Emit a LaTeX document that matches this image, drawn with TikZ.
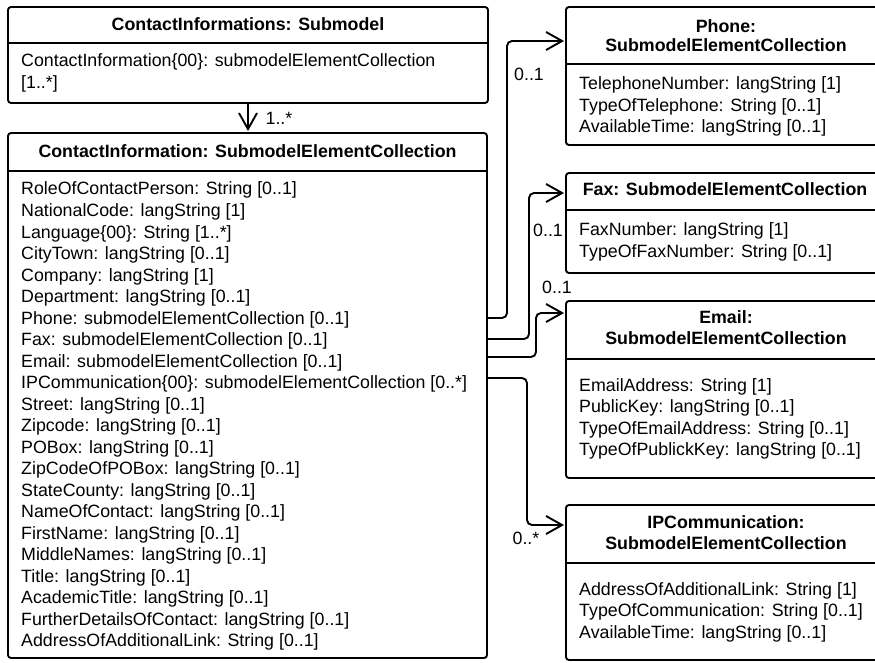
\documentclass[tikz,border=0pt]{standalone}
\usepackage{fontspec}
\setmainfont{Liberation Sans}
\usetikzlibrary{arrows.meta}

\tikzset{
  umlbox/.style={draw, line width=1.9pt, rounded corners=3pt, anchor=north west, inner sep=0pt, outer sep=0pt},
  sepline/.style={line width=1.9pt},
  title/.style={font=\bfseries\fontsize{17.8}{21.4}\selectfont, inner sep=0pt, anchor=base},
  attr/.style={font=\fontsize{17.8}{21.4}\selectfont, inner sep=0pt, anchor=base west},
  mult/.style={font=\fontsize{17.8}{21.4}\selectfont, inner sep=0pt},
  assoc/.style={line width=1.9pt, rounded corners=5pt, shorten >=2pt,
    -{Straight Barb[length=16pt,width=18pt,line width=1.9pt]}},
}

\begin{document}
\begin{tikzpicture}[x=1pt,y=-1pt]
\useasboundingbox (0,0) rectangle (875,663);

% submodel
\node[umlbox, minimum width=480pt, minimum height=96pt] (subm) at (8,7) {};
\draw[sepline] (8,43) -- (488,43);
\node[title] (submtitle) at (248,31) {ContactInformations: Submodel};
\node[attr] (subma) at (21,67) {ContactInformation\{00\}: submodelElementCollection};
\node[attr] (submb) at (21,88.5) {[1..*]};

% contact information
\node[umlbox, minimum width=479pt, minimum height=525pt] (ci) at (8,133) {};
\draw[sepline] (8,171) -- (487,171);
\node[title] (cititle) at (247.5,158) {ContactInformation: SubmodelElementCollection};
\foreach \t [count=\i] in {RoleOfContactPerson: String [0..1],
  NationalCode: langString [1],
  Language\{00\}: String [1..*],
  CityTown: langString [0..1],
  Company: langString [1],
  Department: langString [0..1],
  Phone: submodelElementCollection [0..1],
  Fax: submodelElementCollection [0..1],
  Email: submodelElementCollection [0..1],
  IPCommunication\{00\}: submodelElementCollection [0..*],
  Street: langString [0..1],
  Zipcode: langString [0..1],
  POBox: langString [0..1],
  ZipCodeOfPOBox: langString [0..1],
  StateCounty: langString [0..1],
  NameOfContact: langString [0..1],
  FirstName: langString [0..1],
  MiddleNames: langString [0..1],
  Title: langString [0..1],
  AcademicTitle: langString [0..1],
  FurtherDetailsOfContact: langString [0..1],
  AddressOfAdditionalLink: String [0..1]}
  \node[attr] (ci-\i) at (21,{195+21.5*(\i-1)}) {\t};

% phone
\node[umlbox, minimum width=320pt, minimum height=138pt] (phone) at (566,7) {};
\draw[sepline] (566,64) -- (886,64);
\node[title] (phonet1) at (726,33) {Phone:};
\node[title] (phonet2) at (726,52) {SubmodelElementCollection};
\node[attr] (phone-1) at (579,90) {TelephoneNumber: langString [1]};
\node[attr] (phone-2) at (579,111.5) {TypeOfTelephone: String [0..1]};
\node[attr] (phone-3) at (579,133) {AvailableTime: langString [0..1]};

% fax
\node[umlbox, minimum width=320pt, minimum height=100pt] (fax) at (566,173) {};
\draw[sepline] (566,210) -- (886,210);
\node[title] (faxt) at (725,196) {Fax: SubmodelElementCollection};
\node[attr] (fax-1) at (579,236) {FaxNumber: langString [1]};
\node[attr] (fax-2) at (579,257.5) {TypeOfFaxNumber: String [0..1]};

% email
\node[umlbox, minimum width=320pt, minimum height=177pt] (email) at (566,301) {};
\draw[sepline] (566,359) -- (886,359);
\node[title] (emailt1) at (726,323) {Email:};
\node[title] (emailt2) at (726,344) {SubmodelElementCollection};
\node[attr] (email-1) at (579,391) {EmailAddress: String [1]};
\node[attr] (email-2) at (579,412.5) {PublicKey: langString [0..1]};
\node[attr] (email-3) at (579,434) {TypeOfEmailAddress: String [0..1]};
\node[attr] (email-4) at (579,455.5) {TypeOfPublickKey: langString [0..1]};

% ip communication
\node[umlbox, minimum width=320pt, minimum height=155pt] (ipc) at (566,505) {};
\draw[sepline] (566,563) -- (886,563);
\node[title] (ipct1) at (726,528) {IPCommunication:};
\node[title] (ipct2) at (726,549) {SubmodelElementCollection};
\node[attr] (ipc-1) at (579,595) {AddressOfAdditionalLink: String [1]};
\node[attr] (ipc-2) at (579,616.5) {TypeOfCommunication: String [0..1]};
\node[attr] (ipc-3) at (579,638) {AvailableTime: langString [0..1]};

% associations
\coordinate (phoneout) at (487,318);
\coordinate (faxout) at (487,339);
\coordinate (mailout) at (487,357);
\coordinate (ipout) at (487,378);
\draw[assoc] (subm.south) -- (subm.south |- ci.north);
\draw[assoc] (phoneout) -- ++(20,0) |- ([yshift=-34pt]phone.north west);
\draw[assoc] (faxout) -- ++(42,0) |- ([yshift=-20pt]fax.north west);
\draw[assoc] (mailout) -- ++(49,0) |- ([yshift=-12pt]email.north west);
\draw[assoc] (ipout) -- ++(40,0) |- ([yshift=-20pt]ipc.north west);
\node[mult] (m-ci) at (279,118) {1..*};
\node[mult] (m-phone) at (529,74) {0..1};
\node[mult] (m-fax) at (548,230) {0..1};
\node[mult] (m-email) at (557,287) {0..1};
\node[mult] (m-ipc) at (526,538) {0..*};
\end{tikzpicture}
\end{document}
